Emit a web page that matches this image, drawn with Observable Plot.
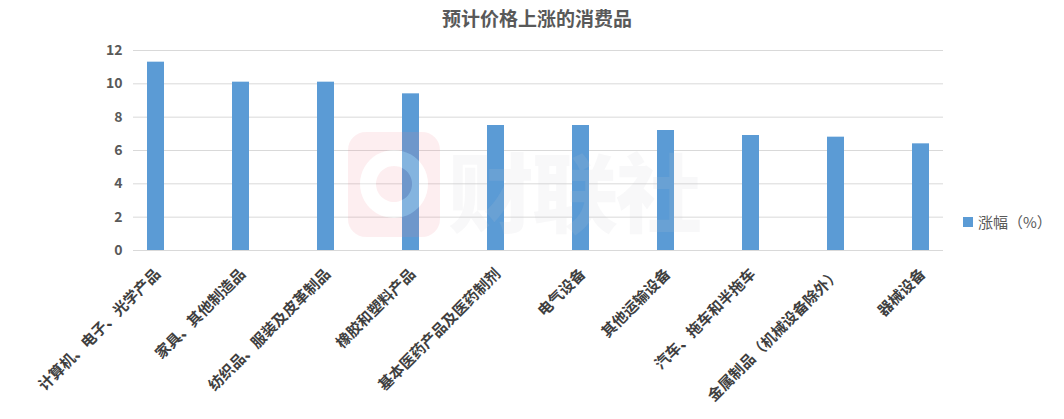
<!DOCTYPE html>
<html>
<head>
<meta charset="utf-8">
<script src="https://cdn.jsdelivr.net/npm/d3@7"></script>
<script src="https://cdn.jsdelivr.net/npm/@observablehq/plot@0.6"></script>
<style>
  body { margin: 0; background: #fff; }
  #wrap { position: relative; width: 1064px; height: 419px; overflow: hidden; font-family: "Noto Sans CJK SC", sans-serif; }
  #title { position: absolute; left: 0; width: 1074px; top: 4px; text-align: center; font-size: 19px; font-weight: 700; color: #595959; }
  #legend { position: absolute; left: 963px; top: 211px; font-size: 15px; color: #595959; display: flex; align-items: center; }
  #legend .sw { width: 10px; height: 10px; background: #5b9bd5; margin-right: 5px; }
  #wm { position: absolute; left: 348px; top: 132px; pointer-events: none; }
  #wm svg { position: absolute; left: 0; top: 0; }
  #wm .txt { position: absolute; left: 100px; top: -6px; font-size: 86px; font-weight: 900; color: rgba(200, 200, 205, 0.13); white-space: nowrap; letter-spacing: -2px; }
</style>
</head>
<body>
<div id="wrap">
  <div id="chart"></div>
  <div id="title"></div>
  <div id="legend"><div class="sw"></div><span id="legtxt"></span></div>
  <div id="wm">
    <svg width="92" height="105" viewBox="0 0 92 105">
      <path fill="rgba(240,120,140,0.13)" fill-rule="evenodd"
        d="M18,0 H74 A18,18 0 0 1 92,18 V87 A18,18 0 0 1 74,105 H18 A18,18 0 0 1 0,87 V18 A18,18 0 0 1 18,0 Z
           M46,18 A34,34 0 1 0 46.01,18 Z M46,34 A18,18 0 1 1 45.99,34 Z"/>
      <path fill="rgba(255,255,255,0.25)" fill-rule="evenodd"
        d="M46,18 A34,34 0 1 0 46.01,18 Z M46,34 A18,18 0 1 1 45.99,34 Z"/>
    </svg>
    <div class="txt">财联社</div>
  </div>
</div>
<script>
const titleText = "预计价格上涨的消费品";
const seriesName = "涨幅（%）";
const categories = [
  "计算机、电子、光学产品",
  "家具、其他制造品",
  "纺织品、服装及皮革制品",
  "橡胶和塑料产品",
  "基本医药产品及医药制剂",
  "电气设备",
  "其他运输设备",
  "汽车、拖车和半拖车",
  "金属制品（机械设备除外）",
  "器械设备"
];
const values = [11.3, 10.1, 10.1, 9.4, 7.5, 7.5, 7.2, 6.9, 6.8, 6.4];
const yTicks = [0, 2, 4, 6, 8, 10, 12];

document.getElementById("title").textContent = titleText;
document.getElementById("legtxt").textContent = seriesName;

const data = categories.map((c, i) => ({category: c, value: values[i]}));

const chart = Plot.plot({
  width: 1064,
  height: 419,
  marginTop: 50,
  marginBottom: 169,
  marginLeft: 133,
  marginRight: 121,
  style: {fontFamily: "'Noto Sans CJK SC', sans-serif", background: "transparent"},
  x: {domain: categories, paddingInner: 0.8, paddingOuter: 0.14, axis: null},
  y: {domain: [0, 12], ticks: yTicks},
  marks: [
    Plot.gridY(yTicks, {stroke: "#d9d9d9", strokeOpacity: 1, strokeWidth: 1}),
    Plot.barY(data, {x: "category", y: "value", fill: "#5b9bd5"}),
    Plot.axisY(yTicks, {tickSize: 0, tickPadding: 11, fontSize: 14, fontWeight: 700, fill: "#595959", label: null}),
    Plot.text(categories, {
      x: d => d,
      frameAnchor: "bottom",
      dy: 21,
      dx: 2,
      rotate: -45,
      textAnchor: "end",
      lineAnchor: "middle",
      fontSize: 15,
      fontWeight: 700,
      fill: "#3f3f3f"
    })
  ]
});
document.getElementById("chart").appendChild(chart);
</script>
</body>
</html>
